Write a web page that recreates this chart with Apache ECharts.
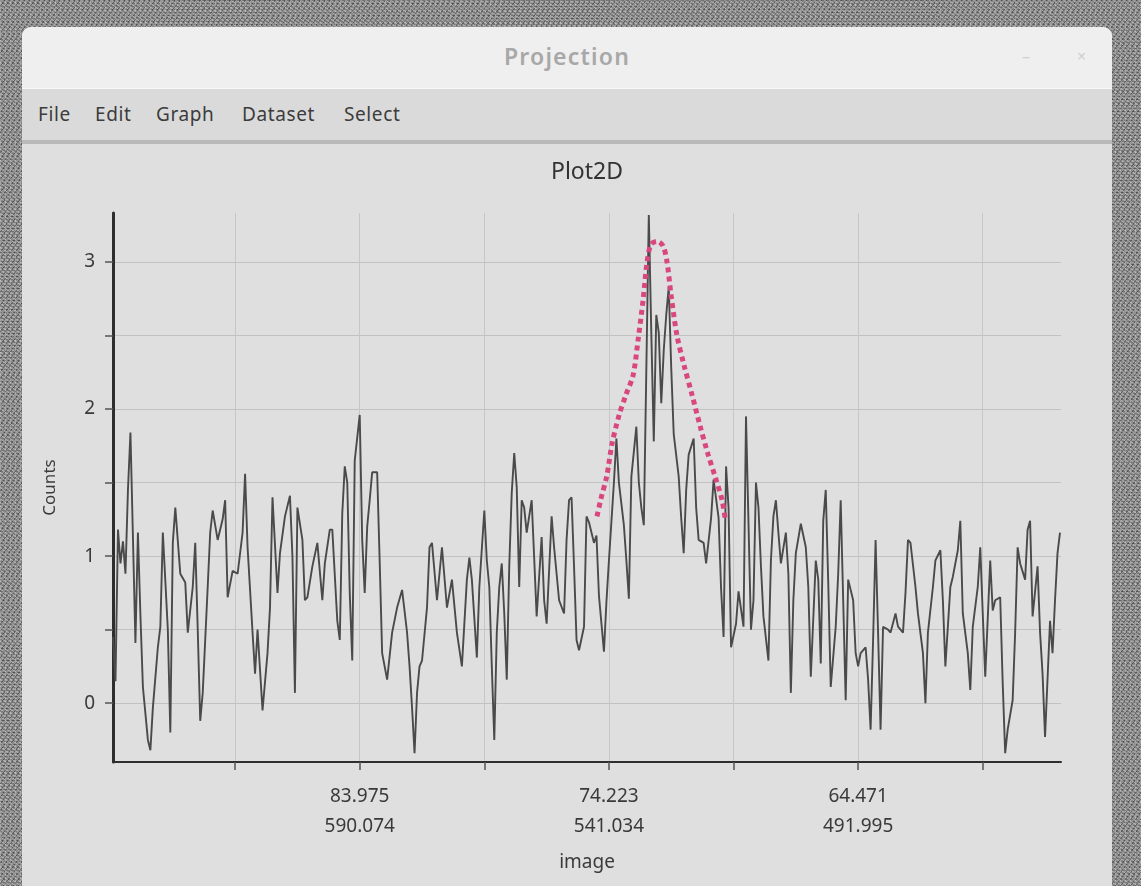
<!DOCTYPE html>
<html>
<head>
<meta charset="utf-8">
<title>Projection</title>
<script src="https://cdn.jsdelivr.net/npm/echarts@6/dist/echarts.min.js"></script>
<style>
  html, body { margin: 0; padding: 0; }
  body {
    width: 1141px; height: 886px; overflow: hidden; position: relative;
    background-color: #8d8d8d;
    background-image:
      repeating-linear-gradient(37deg, rgba(255,255,255,0.28) 0 1px, transparent 1px 3px),
      repeating-linear-gradient(-53deg, rgba(0,0,0,0.30) 0 1px, transparent 1px 4px),
      repeating-linear-gradient(90deg, rgba(255,255,255,0.18) 0 1px, transparent 1px 5px),
      repeating-linear-gradient(0deg, rgba(0,0,0,0.18) 0 1px, transparent 1px 3px);
    font-family: "Noto Sans", "Open Sans", sans-serif;
  }
  #win {
    position: absolute; left: 22px; top: 27px; width: 1090px; height: 880px;
    background: #dfdfdf; border-radius: 9px 9px 0 0; overflow: hidden;
  }
  #titlebar {
    position: absolute; left: 0; top: 0; width: 100%; height: 61px;
    background: #efefef; border-bottom: 1px solid #f8f8f8;
    text-align: center; line-height: 58px;
    font-size: 23px; font-weight: 600; color: #a8a8a8; letter-spacing: 1.2px;
  }
  #titlebar .ctl { position: absolute; top: 0; font-size: 16px; color: #cfcfcf; font-weight: 400; }
  #menubar {
    position: absolute; left: 0; top: 62px; width: 100%; height: 51px;
    background: #dadada; border-bottom: 4px solid #b9b9b9;
  }
  #menubar span {
    position: absolute; top: 12px; font-size: 19px; color: #3c3c3c; letter-spacing: 0.6px;
  }
  #chart { position: absolute; left: 0; top: 0; width: 1141px; height: 886px; }
</style>
</head>
<body>
<div id="win">
  <div id="titlebar">Projection<span class="ctl" style="left:1000px">–</span><span class="ctl" style="left:1055px">×</span></div>
  <div id="menubar">
    <span style="left:16px">File</span>
    <span style="left:73px">Edit</span>
    <span style="left:134px">Graph</span>
    <span style="left:220px">Dataset</span>
    <span style="left:322px">Select</span>
  </div>
</div>
<div id="chart"></div>
<script>
// Projected counts along the image axis, [bin, counts], in order of bin.
const profileA = [[1,0.45],[2,0.15],[3,1.18],[4,0.95],[5,1.10],[6,0.88],[7,1.45],[8,1.84],[9,1.13],[10,0.41],
  [11,1.16],[12,0.60],[13,0.11],[15,-0.25],[16,-0.32],[17,-0.03],[19,0.38],[20,0.52],[21,1.16],[23,0.50],
  [24,-0.20],[25,1.09],[26,1.33],[28,0.88],[30,0.82],[31,0.48],[33,0.79],[34,1.09],[35,0.50],[36,-0.12],
  [37,0.07],[39,0.79],[40,1.16],[41,1.31],[43,1.11],[45,1.25],[46,1.38],[47,0.72],[49,0.90],[51,0.88],
  [53,1.16],[54,1.56],[55,1.06],[57,0.48],[58,0.20],[59,0.50],[61,-0.05],[63,0.34],[64,0.65]];
const profileB = [[65,1.40],[67,0.75],[68,1.02],[70,1.27],[72,1.41],[73,1.00],[74,0.07],[75,1.33],[77,1.11],[78,0.70],
  [79,0.72],[81,0.93],[83,1.09],[85,0.70],[86,0.95],[88,1.18],[89,1.18],[91,0.56],[92,0.43],[93,1.29],
  [94,1.61],[95,1.50],[96,0.75],[97,0.29],[98,1.65],[100,1.96],[101,1.11],[102,0.75],[103,1.20],[104,1.38],
  [105,1.57],[107,1.57],[108,0.97],[109,0.34],[111,0.16],[113,0.48],[115,0.65],[117,0.77],[119,0.48],[120,0.25],
  [121,-0.03],[122,-0.34],[123,0.07],[124,0.25],[125,0.29],[127,0.65],[128,1.06]];
const profileC = [[129,1.09],[131,0.70],[133,1.06],[135,0.65],[137,0.84],[139,0.48],[141,0.25],[143,0.84],[144,0.99],[145,0.84],
  [147,0.31],[148,0.79],[150,1.31],[151,0.97],[152,0.79],[153,0.25],[154,-0.25],[155,0.48],[156,0.79],[157,0.95],
  [158,0.61],[159,0.16],[160,0.93],[161,1.43],[162,1.70],[163,1.47],[164,0.79],[165,1.38],[166,1.33],[167,1.16],
  [169,1.38],[170,0.99],[171,0.59],[173,1.13],[174,0.70],[175,0.54],[177,1.27],[178,1.06],[180,0.70],[182,0.61],
  [183,1.11],[184,1.38],[185,1.40],[186,0.93],[187,0.43],[188,0.36],[190,0.52],[191,1.27]];
const profileD = [[192,1.23],[194,1.09],[195,1.14],[196,0.73],[198,0.35],[199,0.69],[200,0.97],[202,1.50],[203,1.80],[204,1.50],
  [206,1.21],[207,0.97],[208,0.71],[209,1.54],[211,1.88],[212,1.50],[213,1.33],[214,1.21],[215,2.26],[216,3.32],
  [217,2.52],[218,1.78],[219,2.64],[220,2.52],[221,2.04],[222,2.40],[223,2.64],[224,2.83],[225,2.28],[226,1.83],
  [228,1.54],[229,1.26],[230,1.02],[231,1.45],[232,1.69],[234,1.80],[235,1.33],[236,1.11],[238,1.09],[239,0.95],
  [241,1.26],[242,1.52],[244,1.26],[245,0.78],[246,0.45],[247,1.61],[248,1.33],[249,0.38],[251,0.54],[252,0.76],
  [254,0.52],[255,1.95]];
const profileE = [[257,0.50],[258,0.70],[259,1.50],[260,1.33],[261,0.93],[262,0.59],[264,0.29],[265,0.97],[266,1.27],[267,1.38],
  [268,1.16],[269,0.95],[271,1.16],[272,0.88],[273,0.07],[274,0.70],[275,1.02],[277,1.22],[279,1.06],[280,0.79],
  [281,0.18],[283,0.97],[284,0.84],[285,0.27],[286,1.24],[287,1.45],[288,0.82],[289,0.11],[291,0.52],[292,0.88],
  [293,1.38],[294,0.70],[295,0.02],[296,0.84],[298,0.70],[299,0.34],[300,0.25],[301,0.34],[303,0.38],[304,0.16],
  [305,-0.18],[306,0.43],[307,1.11],[308,0.48],[309,-0.18],[310,0.52],[312,0.50],[313,0.48],[315,0.61],[316,0.52],
  [318,0.48],[319,0.75],[320,1.11]];
const profileF = [[321,1.09],[323,0.79],[324,0.61],[326,0.34],[327,0.00],[328,0.48],[330,0.79],[331,0.97],[333,1.04],[334,0.70],
  [335,0.25],[337,0.79],[338,0.86],[340,1.04],[341,1.24],[342,0.61],[344,0.34],[345,0.09],[346,0.52],[348,0.79],
  [349,1.06],[350,0.61],[351,0.18],[353,0.97],[354,0.63],[355,0.70],[357,0.72],[358,0.14],[359,-0.34],[360,-0.18],
  [362,0.02],[363,0.48],[364,1.06],[365,0.95],[367,0.84],[368,1.18],[369,1.24],[370,0.59],[372,0.93],[373,0.48],
  [374,0.20],[375,-0.23],[377,0.56],[378,0.34],[379,0.70],[380,1.02],[381,1.16]];

// Hand-drawn peak envelope, [bin, counts].
const peakOutline = [[195.2,1.27],[196.8,1.39],[199.2,1.55],[201.2,1.76],[204.1,1.96],[206.9,2.10],[209.7,2.23],
  [211.7,2.47],[213.7,2.74],[215.3,3.00],[216.9,3.12],[219.3,3.14],[221.7,3.11],[223.3,3.00],[224.9,2.78],
  [227.3,2.50],[230.1,2.30],[233.3,2.10],[236.5,1.89],[239.8,1.69],[243.0,1.52],[245.4,1.38],[246.6,1.26]];

// Axis ticks and their labels.
const xTickBins = [50, 100, 150, 200, 250, 300, 350];
const xLabelBins = [100, 200, 300];
const xLabelAngle = ['83.975', '74.223', '64.471'];
const xLabelImage = ['590.074', '541.034', '491.995'];
const yTickValues = [0, 0.5, 1, 1.5, 2, 2.5, 3];
const yLabelValues = [0, 1, 2, 3];

const profile = [].concat(profileA, profileB, profileC, profileD, profileE, profileF);

const FONT = '"Noto Sans", "Open Sans", sans-serif';
const chart = echarts.init(document.getElementById('chart'), null, { renderer: 'canvas' });

chart.setOption({
  backgroundColor: 'transparent',
  animation: false,
  graphic: [{
    type: 'text', left: 551, top: 161,
    style: { text: 'Plot2D', fontSize: 23, fontFamily: FONT, fill: '#333', letterSpacing: 1 }
  }],
  grid: { left: 113, right: 80, top: 213, bottom: 124 },
  xAxis: {
    type: 'value', min: 1, max: 381.4,
    name: 'image', nameLocation: 'middle', nameGap: 91,
    nameTextStyle: { fontSize: 19, fontFamily: FONT, color: '#3a3a3a' },
    axisLine: { show: true, onZero: false, lineStyle: { color: '#2e2e2e', width: 2 } },
    axisTick: { show: true, length: 8, customValues: xTickBins, lineStyle: { color: '#555', width: 1.5 } },
    axisLabel: {
      customValues: xLabelBins, margin: 20, fontSize: 19, lineHeight: 30,
      fontFamily: FONT, color: '#3a3a3a',
      formatter: function (v) {
        const i = xLabelBins.indexOf(Math.round(v));
        return i < 0 ? '' : xLabelAngle[i] + '\n' + xLabelImage[i];
      }
    },
    splitLine: { show: true, lineStyle: { color: '#c6c6c6', width: 1 } }
  },
  yAxis: {
    type: 'value', min: -0.4, max: 3.333,
    name: 'Counts', nameLocation: 'middle', nameGap: 54, nameRotate: 90,
    nameTextStyle: { fontSize: 17, fontFamily: FONT, color: '#3a3a3a' },
    axisLine: { show: true, onZero: false, lineStyle: { color: '#2e2e2e', width: 3 } },
    axisTick: { show: true, length: 8, customValues: yTickValues, lineStyle: { color: '#555', width: 1.5 } },
    axisLabel: {
      customValues: yLabelValues, margin: 18, fontSize: 19, fontFamily: FONT, color: '#3a3a3a',
      formatter: function (v) { return String(Math.round(v)); }
    },
    splitLine: { show: true, lineStyle: { color: '#c2c2c2', width: 1 } }
  },
  series: [
    {
      type: 'line', data: profile, symbol: 'none', z: 3,
      lineStyle: { color: '#4a4a4a', width: 1.9 }
    },
    {
      type: 'line', data: peakOutline, symbol: 'none', smooth: 0.3, z: 4,
      lineStyle: { color: '#d8487f', width: 5, type: [5, 4], cap: 'butt' }
    }
  ]
});
</script>
</body>
</html>
